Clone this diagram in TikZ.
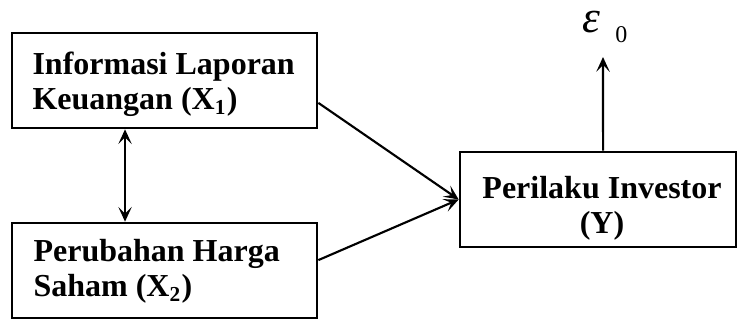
\documentclass[tikz,border=0pt]{standalone}
\usepackage{fontspec}
\setmainfont{Liberation Serif}
\usetikzlibrary{arrows.meta}

\begin{document}
\begin{tikzpicture}[
    x=0.375pt, y=-0.375pt,
    varBox/.style={rectangle, draw=black, line width=1pt, inner sep=0pt},
    varText/.style={inner sep=0pt, font=\fontsize{12}{13.2}\selectfont\bfseries},
    pathArrow/.style={line width=0.8pt, -{Stealth[length=5.5pt,width=5pt,inset=2.5pt]}},
    corrArrow/.style={line width=0.8pt, {Stealth[length=5.5pt,width=5pt,inset=2.5pt]}-{Stealth[length=5.5pt,width=5pt,inset=2.5pt]}}
]
    \useasboundingbox (0,0) rectangle (737,320);

    \node[varBox, minimum width=114.4pt, minimum height=35.6pt] (x1) at (164.5, 80.5) {};
    \node[varText, anchor=west, align=left] (x1text) at (32, 84) {Informasi Laporan\\Keuangan (X\textsubscript{1})};

    \node[varBox, minimum width=114.4pt, minimum height=35.6pt] (x2) at (164.5, 270.5) {};
    \node[varText, anchor=west, align=left] (x2text) at (33, 271) {Perubahan Harga\\Saham (X\textsubscript{2})};

    \node[varBox, minimum width=103.5pt, minimum height=35.6pt] (y) at (598, 199.5) {};
    \node[varText, align=center] (ytext) at (602, 208) {Perilaku Investor\\(Y)};

    \coordinate (errtip) at (603, 57);
    \node[inner sep=0pt, anchor=base west] (err) at (582, 33)
        {{\itshape\fontsize{17}{17}\selectfont ε}\hspace{5.6pt}\raisebox{-3.6pt}{\fontsize{9}{9}\selectfont 0}};

    \draw[corrArrow] ([xshift=-14.8pt]x1.south) -- ([xshift=-14.8pt]x2.north);
    \draw[pathArrow] ([yshift=-8.4pt]x1.east) -- (y.west);
    \draw[pathArrow] ([yshift=3.9pt]x2.east) -- (y.west);
    \draw[pathArrow] ([xshift=1.9pt]y.north) -- (errtip);
\end{tikzpicture}
\end{document}
